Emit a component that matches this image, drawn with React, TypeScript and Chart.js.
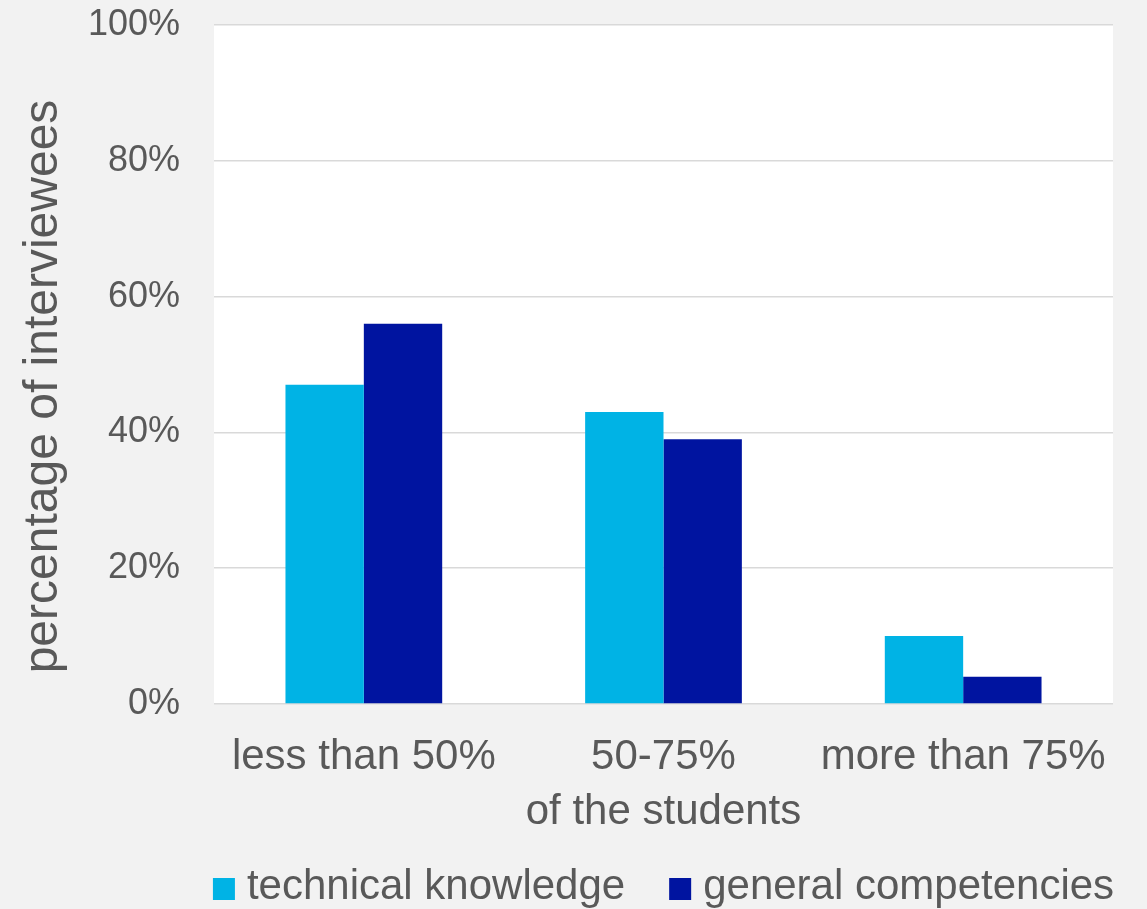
import { useEffect, useRef } from "react";
import { Chart, registerables } from "chart.js";

Chart.register(...registerables);

const categories = ["less than 50%", "50-75%", "more than 75%"];
const technicalKnowledge = [47, 43, 10];
const generalCompetencies = [56, 39, 4];
const seriesLabels = ["technical knowledge", "general competencies"];
const seriesColors = ["#00B3E5", "#0014A0"];
const yTickValues = [0, 20, 40, 60, 80, 100];
const xTitle = "of the students";
const yTitle = "percentage of interviewees";

const FONT = "'Liberation Sans', Arial, Helvetica, sans-serif";
const TEXT = "#595959";

export default function App() {
  const ref = useRef<HTMLCanvasElement>(null);

  useEffect(() => {
    document.body.style.margin = "0";
    if (!ref.current) return;

    const bgPlugin = {
      id: "bgPlugin",
      beforeDraw(chart: any) {
        const { ctx, chartArea: a } = chart;
        ctx.save();
        ctx.fillStyle = "#f2f2f2";
        ctx.fillRect(0, 0, chart.width, chart.height);
        ctx.fillStyle = "#ffffff";
        ctx.fillRect(a.left, a.top, a.right - a.left, a.bottom - a.top);
        ctx.restore();
      },
    };

    const yTitlePlugin = {
      id: "yTitlePlugin",
      afterDraw(chart: any) {
        const { ctx, chartArea: a } = chart;
        ctx.save();
        ctx.translate(a.left - 157, (a.top + a.bottom) / 2 + 22);
        ctx.rotate(-Math.PI / 2);
        ctx.font = `48px ${FONT}`;
        ctx.fillStyle = TEXT;
        ctx.textAlign = "center";
        ctx.textBaseline = "alphabetic";
        ctx.fillText(yTitle, 0, 0);
        ctx.restore();
      },
    };

    const legendPlugin = {
      id: "legendPlugin",
      afterDraw(chart: any) {
        const { ctx, chartArea: a } = chart;
        ctx.save();
        ctx.font = `42px ${FONT}`;
        const box = 22;
        const gap = 12;
        const itemGap = 44;
        const ds = chart.data.datasets;
        const widths = ds.map((d: any) => ctx.measureText(d.label).width);
        const total =
          widths.reduce((s: number, w: number) => s + box + gap + w, 0) +
          itemGap * (ds.length - 1);
        let x = (a.left + a.right) / 2 - total / 2;
        const baseline = 899;
        ds.forEach((d: any, i: number) => {
          ctx.fillStyle = d.backgroundColor;
          ctx.fillRect(x, baseline - 21, box, box);
          ctx.fillStyle = TEXT;
          ctx.textAlign = "left";
          ctx.textBaseline = "alphabetic";
          ctx.fillText(d.label, x + box + gap, baseline);
          x += box + gap + widths[i] + itemGap;
        });
        ctx.restore();
      },
    };

    const chart = new Chart(ref.current, {
      type: "bar",
      data: {
        labels: categories,
        datasets: [
          {
            label: seriesLabels[0],
            data: technicalKnowledge,
            backgroundColor: seriesColors[0],
            categoryPercentage: 0.523,
            barPercentage: 1,
          },
          {
            label: seriesLabels[1],
            data: generalCompetencies,
            backgroundColor: seriesColors[1],
            categoryPercentage: 0.523,
            barPercentage: 1,
          },
        ],
      },
      options: {
        responsive: false,
        animation: false,
        layout: { padding: { top: 25, right: 34, left: 0, bottom: 0 } },
        plugins: {
          legend: { display: false },
          tooltip: { enabled: false },
        },
        scales: {
          x: {
            grid: { display: false },
            border: { display: false },
            ticks: {
              font: { size: 42, family: FONT },
              color: TEXT,
              padding: 20,
              maxRotation: 0,
              autoSkip: false,
            },
            title: {
              display: true,
              text: xTitle,
              font: { size: 42, family: FONT },
              color: TEXT,
              padding: { top: 0, bottom: 71 },
            },
            afterFit(s: any) {
              s.height = 205;
            },
          },
          y: {
            min: 0,
            max: 100,
            afterBuildTicks(s: any) {
              s.ticks = yTickValues.map((v) => ({ value: v }));
            },
            ticks: {
              callback: (v: any) => `${v}%`,
              font: { size: 36, family: FONT },
              color: TEXT,
              padding: 0,
            },
            grid: {
              color: "#d9d9d9",
              lineWidth: 1.5,
              drawTicks: true,
              tickLength: 34,
              tickColor: "rgba(0,0,0,0)",
            },
            border: { display: false },
            afterFit(s: any) {
              s.width = 214;
            },
          },
        },
      },
      plugins: [bgPlugin, yTitlePlugin, legendPlugin],
    });

    return () => chart.destroy();
  }, []);

  return <canvas ref={ref} width={1147} height={909} style={{ display: "block" }} />;
}
